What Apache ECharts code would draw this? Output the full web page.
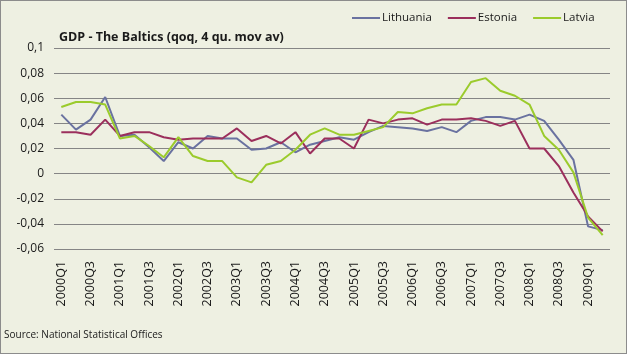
<!DOCTYPE html>
<html>
<head>
<meta charset="utf-8">
<script src="https://cdn.jsdelivr.net/npm/echarts@6/dist/echarts.min.js"></script>
<style>
  html, body { margin: 0; padding: 0; background: #fff; }
  #chart { width: 625px; height: 352px; border: 1px solid #8c8c8c; background: #eef0e2; }
</style>
</head>
<body>
<div id="chart"></div>
<script>
// quarters 2000Q1 .. 2009Q2
const quarters = []
for (let y = 2000; y <= 2009; y++) {
  for (let q = 1; q <= 4; q++) {
    if (y === 2009 && q > 2) break
    quarters.push(y + 'Q' + q)
  }
}

const lithuania = [
  0.047, 0.035, 0.043, 0.061, 0.030, 0.031, 0.021, 0.010, 0.025, 0.020,
  0.030, 0.028, 0.028, 0.019, 0.020, 0.025, 0.017, 0.023, 0.026, 0.029,
  0.027, 0.033, 0.038, 0.037, 0.036, 0.034, 0.037, 0.033, 0.042, 0.045,
  0.045, 0.043, 0.047, 0.042, 0.027, 0.011, -0.042, -0.045
]
const estonia = [
  0.033, 0.033, 0.031, 0.043, 0.030, 0.033, 0.033, 0.029, 0.027, 0.028,
  0.028, 0.028, 0.036, 0.026, 0.030, 0.024, 0.033, 0.016, 0.028, 0.028,
  0.020, 0.043, 0.040, 0.043, 0.044, 0.039, 0.043, 0.043, 0.044, 0.042,
  0.038, 0.042, 0.020, 0.020, 0.006, -0.015, -0.034, -0.046
]
const latvia = [
  0.053, 0.057, 0.057, 0.055, 0.028, 0.030, 0.022, 0.013, 0.029, 0.014,
  0.010, 0.010, -0.003, -0.007, 0.007, 0.010, 0.019, 0.031, 0.036, 0.031,
  0.031, 0.034, 0.037, 0.049, 0.048, 0.052, 0.055, 0.055, 0.073, 0.076,
  0.066, 0.062, 0.055, 0.030, 0.019, 0.001, -0.035, -0.049
]

const chart = echarts.init(document.getElementById('chart'))

const font = '"Open Sans", "Noto Sans", sans-serif'

const mkSeries = (name, data, color) => ({
  name,
  type: 'line',
  data,
  symbol: 'none',
  smooth: false,
  lineStyle: { color, width: 2 },
  itemStyle: { color }
})

chart.setOption({
  animation: false,
  textStyle: { fontFamily: font },
  title: {
    text: 'GDP - The Baltics (qoq, 4 qu. mov av)',
    left: 58,
    top: 30,
    padding: 0,
    textStyle: { fontSize: 12.5, fontWeight: 'bold', color: '#1a1a1a', fontFamily: font }
  },
  legend: {
    left: 351,
    top: 11,
    padding: 0,
    itemWidth: 28,
    itemHeight: 2,
    itemGap: 16,
    icon: 'rect',
    textStyle: { fontSize: 11.5, color: '#1a1a1a', padding: [0, 0, 0, -3] },
    data: ['Lithuania', 'Estonia', 'Latvia']
  },
  grid: { left: 53, right: 16, top: 47, bottom: 104, containLabel: false },
  xAxis: {
    type: 'category',
    data: quarters,
    boundaryGap: true,
    axisLine: { show: false },
    axisTick: { show: false },
    axisLabel: {
      rotate: 90,
      interval: 1,
      fontSize: 12.5,
      color: '#1a1a1a',
      margin: 12
    }
  },
  yAxis: {
    type: 'value',
    min: -0.06,
    max: 0.1,
    interval: 0.02,
    axisLine: { show: false },
    axisTick: { show: false },
    splitLine: { lineStyle: { color: '#858585', width: 1 } },
    axisLabel: {
      fontSize: 12,
      color: '#1a1a1a',
      margin: 10,
      formatter: v => String(Math.round(v * 100) / 100).replace('.', ',')
    }
  },
  graphic: [{
    type: 'text',
    left: 3,
    top: 329,
    style: { text: 'Source: National Statistical Offices', fontSize: 10, fill: '#1a1a1a', fontFamily: font }
  }],
  series: [
    mkSeries('Lithuania', lithuania, '#6a72a0'),
    mkSeries('Estonia', estonia, '#9b2f5c'),
    mkSeries('Latvia', latvia, '#9bcb2c')
  ]
})
</script>
</body>
</html>
